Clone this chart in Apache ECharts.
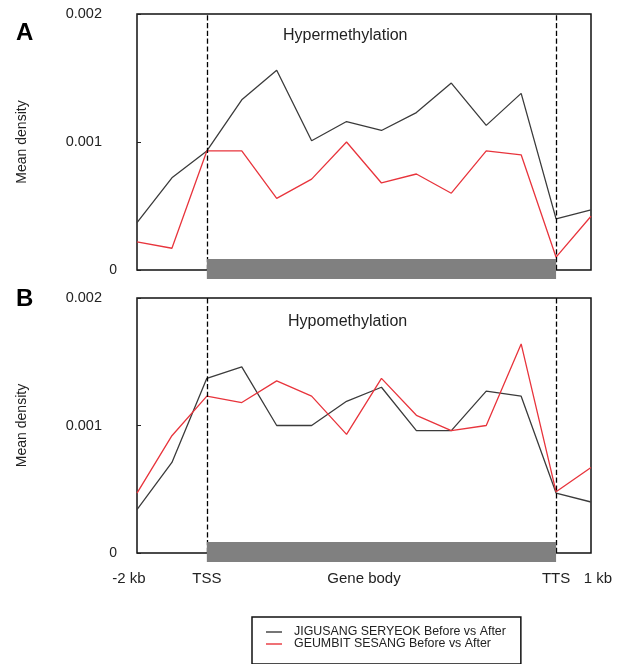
<!DOCTYPE html>
<html>
<head>
<meta charset="utf-8">
<script src="https://cdn.jsdelivr.net/npm/echarts@6/dist/echarts.min.js"></script>
<style>
  html, body { margin: 0; padding: 0; background: #fff; }
  #chart { width: 622px; height: 664px; }
</style>
</head>
<body>
<div id="chart"></div>
<script>
// bin positions: -2 kb, upstream, TSS, 10 gene body bins, TTS, 1 kb
const bins = [0, 1, 2, 3, 4, 5, 6, 7, 8, 9, 10, 11, 12, 13];
const geneBody = [2, 12];
const xTickValues = [0, 2, 6.5, 12, 13];
const xTickLabels = ["-2 kb", "TSS", "Gene body", "TTS", "1 kb"];
const yTicks = [0, 0.001, 0.002];

const seriesNames = ["JIGUSANG SERYEOK Before vs After", "GEUMBIT SESANG Before vs After"];
const panelTitles = ["Hypermethylation", "Hypomethylation"];
const panelLetters = ["A", "B"];

// panel A (hypermethylation)
const hyperJigusang = [0.00037, 0.00072, 0.00093, 0.00133, 0.00156, 0.00101, 0.00116, 0.00109, 0.00123, 0.00146, 0.00113, 0.00138, 0.00040, 0.00047];
const hyperGeumbit  = [0.00022, 0.00017, 0.00093, 0.00093, 0.00056, 0.00071, 0.00100, 0.00068, 0.00075, 0.00060, 0.00093, 0.00090, 0.00010, 0.00042];
// panel B (hypomethylation)
const hypoJigusang  = [0.00034, 0.00071, 0.00137, 0.00146, 0.00100, 0.00100, 0.00119, 0.00130, 0.00096, 0.00096, 0.00127, 0.00123, 0.00047, 0.00040];
const hypoGeumbit   = [0.00047, 0.00092, 0.00123, 0.00118, 0.00135, 0.00123, 0.00093, 0.00137, 0.00108, 0.00096, 0.00100, 0.00164, 0.00048, 0.00067];

const FONT = "Liberation Sans, Arial, sans-serif";
const BLACK = "#3b3b3b";
const RED = "#e8343c";

const chart = echarts.init(document.getElementById("chart"));

function pairs(values) {
    return bins.map((b, i) => [b, values[i]]);
}

function yAxisFor(gridIndex) {
    return {
        gridIndex,
        type: "value",
        min: 0,
        max: 0.002,
        interval: 0.001,
        name: "Mean density",
        nameLocation: "middle",
        nameGap: 108,
        nameTextStyle: { fontFamily: FONT, fontSize: 14, color: "#222" },
        axisLine: { show: false },
        axisTick: { show: true, inside: true, length: 4, lineStyle: { color: "#222" } },
        splitLine: { show: false },
        axisLabel: {
            margin: 20,
            fontFamily: FONT,
            fontSize: 14,
            color: "#222",
            formatter: (v) => {
                if (v === 0) return "0";
                const idx = yTicks.findIndex((t) => Math.abs(t - v) < 1e-9);
                return "{n|" + (idx === 1 ? "0.001" : "0.002") + "}";
            },
            rich: { n: { padding: [0, 15, 0, 0], fontFamily: FONT, fontSize: 14.5, color: "#222" } }
        }
    };
}

function xAxisFor(gridIndex, withLabels) {
    const labelRich = {
        l: { padding: [0, 16, 0, 0], fontFamily: FONT, fontSize: 15, color: "#222" },
        r: { padding: [0, 0, 0, 14], fontFamily: FONT, fontSize: 15, color: "#222" }
    };
    return {
        gridIndex,
        type: "value",
        min: 0,
        max: 13,
        axisLine: { show: false },
        axisTick: { show: false },
        splitLine: { show: false },
        axisLabel: withLabels
            ? {
                  show: true,
                  customValues: xTickValues,
                  formatter: (v) => {
                      const i = xTickValues.indexOf(v);
                      if (i === 0) return "{l|" + xTickLabels[i] + "}";
                      if (i === xTickValues.length - 1) return "{r|" + xTickLabels[i] + "}";
                      return xTickLabels[i];
                  },
                  rich: labelRich,
                  margin: 18,
                  fontFamily: FONT,
                  fontSize: 15,
                  color: "#222"
              }
            : { show: false }
    };
}

function lineSeries(name, values, color, gridIndex, withMarks) {
    const s = {
        name,
        type: "line",
        xAxisIndex: gridIndex,
        yAxisIndex: gridIndex,
        data: pairs(values),
        symbol: "none",
        lineStyle: { color, width: 1.3 },
        itemStyle: { color },
        z: 3
    };
    if (withMarks) {
        s.markLine = {
            silent: true,
            symbol: ["none", "none"],
            label: { show: false },
            lineStyle: { type: "dashed", color: "#000", width: 1.3 },
            data: [{ xAxis: geneBody[0] }, { xAxis: geneBody[1] }]
        };
    }
    return s;
}

function geneBar(gridIndex) {
    return {
        type: "custom",
        xAxisIndex: gridIndex,
        yAxisIndex: gridIndex,
        clip: false,
        silent: true,
        z: 6,
        encode: { x: [0, 1] },
        data: [geneBody],
        renderItem: (params, api) => {
            const a = api.coord([api.value(0), 0]);
            const b = api.coord([api.value(1), 0]);
            return {
                type: "rect",
                shape: { x: a[0], y: a[1] - 11, width: b[0] - a[0], height: 20 },
                style: { fill: "#808080" }
            };
        }
    };
}

const option = {
    backgroundColor: "#fff",
    animation: false,
    title: [
        { text: panelTitles[0], left: 278, top: 23, textStyle: { fontFamily: FONT, fontSize: 16, fontWeight: "normal", color: "#222" } },
        { text: panelTitles[1], left: 283, top: 309, textStyle: { fontFamily: FONT, fontSize: 16, fontWeight: "normal", color: "#222" } },
        { text: panelLetters[0], left: 11, top: 16, textStyle: { fontFamily: FONT, fontSize: 24, fontWeight: "bold", color: "#000" } },
        { text: panelLetters[1], left: 11, top: 282, textStyle: { fontFamily: FONT, fontSize: 24, fontWeight: "bold", color: "#000" } }
    ],
    legend: {
        orient: "vertical",
        left: 252,
        top: 617,
        data: seriesNames,
        selectedMode: false,
        backgroundColor: "#fff",
        borderColor: "#111",
        borderWidth: 1.5,
        borderRadius: 0,
        padding: [9, 15, 14, 14],
        icon: "rect",
        itemWidth: 16,
        itemHeight: 1.4,
        itemGap: 0,
        textStyle: { fontFamily: FONT, fontSize: 12.4, color: "#222", lineHeight: 12, padding: [0, 0, 0, 7] }
    },
    grid: [
        { left: 137, top: 14, width: 454, height: 256, show: true, borderColor: "#111", borderWidth: 1.5, backgroundColor: "transparent" },
        { left: 137, top: 298, width: 454, height: 255, show: true, borderColor: "#111", borderWidth: 1.5, backgroundColor: "transparent" }
    ],
    xAxis: [xAxisFor(0, false), xAxisFor(1, true)],
    yAxis: [yAxisFor(0), yAxisFor(1)],
    series: [
        lineSeries(seriesNames[0], hyperJigusang, BLACK, 0, true),
        lineSeries(seriesNames[1], hyperGeumbit, RED, 0, false),
        geneBar(0),
        lineSeries(seriesNames[0], hypoJigusang, BLACK, 1, true),
        lineSeries(seriesNames[1], hypoGeumbit, RED, 1, false),
        geneBar(1)
    ]
};

chart.setOption(option);
</script>
</body>
</html>
